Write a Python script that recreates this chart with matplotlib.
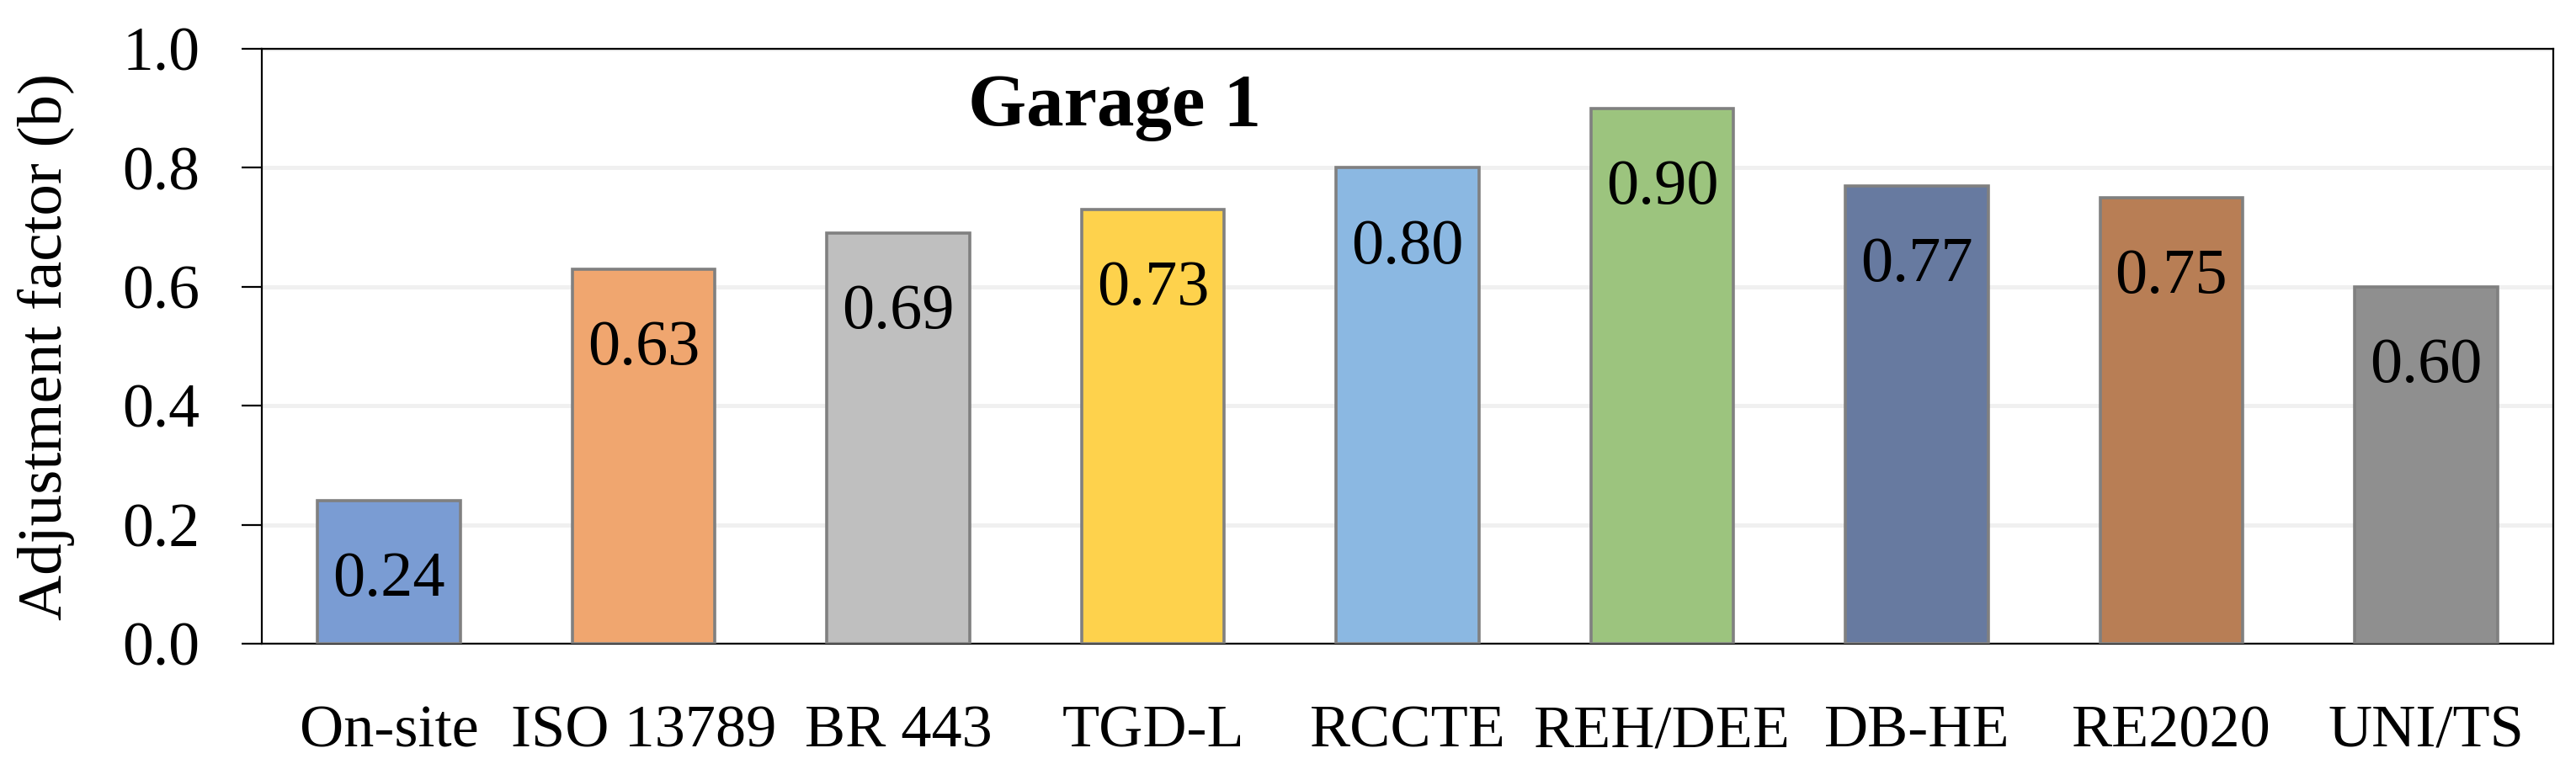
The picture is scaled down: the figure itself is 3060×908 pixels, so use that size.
import numpy as np
import matplotlib
matplotlib.use("Agg")
import matplotlib.pyplot as plt

# datos del grafico
categorias = ["On-site", "ISO 13789", "BR 443", "TGD-L", "RCCTE",
              "REH/DEE", "DB-HE", "RE2020", "UNI/TS"]
valores = [0.24, 0.63, 0.69, 0.73, 0.80, 0.90, 0.77, 0.75, 0.60]
colores = ["#7A9CD3", "#F0A66F", "#BFBFBF", "#FED24C", "#8BB8E2",
           "#9CC47E", "#677AA0", "#B87E55", "#8F8F8F"]
ticks_y = [0.0, 0.2, 0.4, 0.6, 0.8, 1.0]

plt.rcParams['font.family'] = ['Liberation Serif', 'DejaVu Serif']

fig = plt.figure(figsize=(15.3, 4.54), dpi=200)
ax = fig.add_axes([0.1016, 0.1575, 0.8896, 0.7785])

x = np.arange(len(categorias))
ax.bar(x, valores, width=0.56, color=colores, edgecolor="#808080",
       linewidth=1.3, zorder=3)

# etiquetas de valor dentro de cada barra
for xi, v in zip(x, valores):
    ax.text(xi, v - 0.16, f"{v:.2f}", ha="center", va="baseline",
            fontsize=27.5, zorder=4)

ax.text(2.85, 0.902, "Garage 1", ha="center", va="center",
        fontsize=32, fontweight="bold")

ax.set_xlim(-0.5, 8.5)
ax.set_ylim(0, 1.0)
ax.set_yticks(ticks_y)
ax.set_yticklabels([f"{t:.1f}" for t in ticks_y])
ax.set_xticks(x)
ax.set_xticklabels(categorias)
ax.set_ylabel("Adjustment factor (b)", fontsize=27, labelpad=20)

ax.tick_params(axis="y", labelsize=26.5, length=8.6, width=0.8, pad=18)
ax.tick_params(axis="x", labelsize=26, length=0, pad=26)

ax.yaxis.grid(True, color="#F0F0F0", linewidth=1.8, zorder=0)
ax.set_axisbelow(True)
for s in ax.spines.values():
    s.set_color("black")
    s.set_linewidth(0.8)

fig.savefig("out.png", dpi=200)
